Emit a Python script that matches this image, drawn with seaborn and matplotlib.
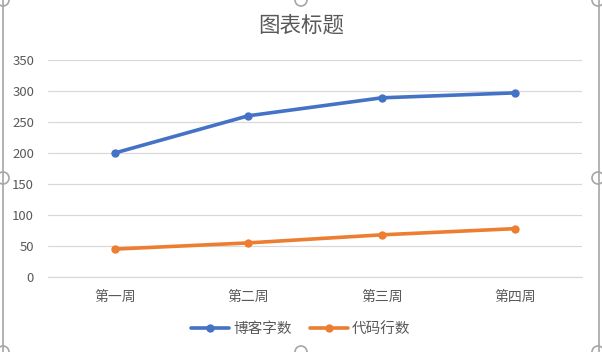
import pandas as pd
import seaborn as sns
import matplotlib.pyplot as plt
from matplotlib.patches import Ellipse
from matplotlib.lines import Line2D

# Data
weeks = ["第一周", "第二周", "第三周", "第四周"]
blog_words = [200, 260, 289, 297]
code_lines = [45, 55, 68, 78]
series_names = ["博客字数", "代码行数"]

df = pd.DataFrame({
    "week": weeks * 2,
    "value": blog_words + code_lines,
    "series": [series_names[0]] * 4 + [series_names[1]] * 4,
})

sns.set_style("white")
plt.rcParams['font.family'] = ['Noto Sans CJK SC', 'DejaVu Sans']

W, H = 602, 352
fig = plt.figure(figsize=(W / 100, H / 100), dpi=100)
ax = fig.add_axes([48 / W, 1 - 277 / H, (582 - 48) / W, (277 - 60) / H])

palette = {series_names[0]: "#4472C4", series_names[1]: "#ED7D31"}
sns.lineplot(data=df, x="week", y="value", hue="series", palette=palette,
             marker="o", markersize=6, markeredgewidth=0, linewidth=2.6,
             sort=False, ax=ax, legend=False)

ax.set_xlim(-0.5, 3.5)
ax.set_ylim(0, 350)
ax.set_yticks(range(0, 351, 50))
ax.yaxis.grid(True, color="#D9D9D9", linewidth=0.9)
ax.axhline(0, color="#D9D9D9", linewidth=0.9, clip_on=False, zorder=0.5)
ax.set_axisbelow(True)
for s in ax.spines.values():
    s.set_visible(False)
ax.tick_params(axis="both", length=0, colors="#595959", labelsize=9.5)
ax.tick_params(axis="y", pad=10)
ax.tick_params(axis="x", pad=9, labelsize=10)
ax.set_xlabel("")
ax.set_ylabel("")

fig.text(0.5, 1 - 26 / H, "图表标题", ha="center", va="center",
         fontsize=15.5, color="#595959")

handles = [Line2D([], [], color=palette[n], linewidth=2.6, marker="o",
                  markersize=6, markeredgewidth=0) for n in series_names]
fig.legend(handles, series_names, loc="center", bbox_to_anchor=(0.5, 1 - 329 / H),
           ncol=2, frameon=False, fontsize=10.5, labelcolor="#595959",
           handlelength=2.6, columnspacing=1.2, handletextpad=0.3)

# selection frame and handles
for x in (2.5 / W, 598.5 / W):
    fig.add_artist(Line2D([x, x], [0, 1], color="#A6A6A6", linewidth=1.2))
for (x, y) in [(3, 0), (301, 0), (598, 0), (3, 178), (598, 178),
               (3, 352), (301, 352), (598, 352)]:
    fig.add_artist(Ellipse((x / W, 1 - y / H), 12 / W, 12 / H,
                           facecolor="white", edgecolor="#A6A6A6", linewidth=1.2))

fig.savefig("out.png", dpi=100)
